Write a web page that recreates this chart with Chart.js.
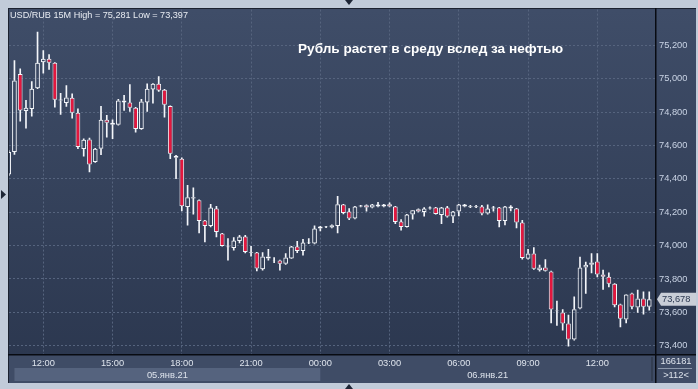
<!DOCTYPE html>
<html>
<head>
<meta charset="utf-8">
<script src="https://cdn.jsdelivr.net/npm/chart.js@4.4.0/dist/chart.umd.min.js"></script>
<style>
html,body{margin:0;padding:0;background:#c1cbd9;overflow:hidden;}
canvas{display:block;}
</style>
</head>
<body>
<canvas id="c" width="698" height="389"></canvas>
<script>
// USD/RUB 15M, слот = номер 15-минутки от 00:00 05.01.21
const firstSlot = 42;

const openP = [
  74.427, 74.561, 75.030, 74.807, 74.819, 74.944, 75.100, 75.120, 75.096, 74.870,
  74.855, 74.887, 74.797, 74.579, 74.637, 74.501, 74.581, 74.755, 74.737, 74.725,
  74.871, 74.859, 74.827, 74.699, 74.859, 74.937, 74.971, 74.935, 74.837, 74.539,
  74.521, 74.232, 74.283, 74.272, 74.150, 74.118, 74.222, 74.072, 73.990, 73.986,
  74.028, 74.054, 73.956, 73.958, 73.859, 73.935, 73.912, 73.911, 73.891, 73.923,
  73.994, 73.968, 74.014, 74.012, 74.102, 74.110, 74.108, 74.118, 74.246, 74.204,
  74.162, 74.234, 74.242, 74.228, 74.246, 74.234, 74.248, 74.234, 74.144, 74.112,
  74.186, 74.218, 74.202, 74.222, 74.228, 74.184, 74.228, 74.174, 74.204, 74.246,
  74.230, 74.230, 74.234, 74.192, 74.222, 74.228, 74.148, 74.234, 74.222, 74.138,
  73.921, 73.953, 73.853, 73.869, 73.845, 73.607, 73.599, 73.533, 73.437, 73.623,
  73.869, 73.885, 73.905, 73.827, 73.813, 73.771, 73.647, 73.557, 73.713, 73.629,
  73.683, 73.633
];
const highP = [
  74.570, 75.110, 75.060, 74.871, 74.984, 75.281, 75.170, 75.146, 75.098, 74.914,
  74.960, 74.911, 74.821, 74.641, 74.645, 74.583, 74.835, 74.781, 74.755, 74.877,
  74.901, 74.966, 74.830, 74.877, 74.971, 74.972, 75.014, 74.937, 74.839, 74.541,
  74.527, 74.362, 74.346, 74.275, 74.152, 74.248, 74.236, 74.074, 74.042, 74.048,
  74.062, 74.062, 73.996, 73.960, 73.958, 73.978, 73.929, 73.913, 73.953, 73.996,
  74.026, 74.038, 74.042, 74.118, 74.116, 74.116, 74.124, 74.296, 74.248, 74.222,
  74.236, 74.242, 74.244, 74.248, 74.260, 74.248, 74.256, 74.236, 74.156, 74.188,
  74.212, 74.220, 74.228, 74.232, 74.230, 74.230, 74.236, 74.206, 74.248, 74.248,
  74.242, 74.242, 74.242, 74.244, 74.236, 74.230, 74.236, 74.240, 74.224, 74.152,
  73.977, 73.988, 73.883, 73.917, 73.847, 73.667, 73.617, 73.583, 73.693, 73.932,
  73.902, 73.953, 73.953, 73.853, 73.837, 73.773, 73.649, 73.707, 73.715, 73.733,
  73.723, 73.723
];
const lowP = [
  74.420, 74.547, 74.747, 74.705, 74.777, 74.941, 75.034, 75.056, 74.831, 74.787,
  74.835, 74.765, 74.581, 74.537, 74.442, 74.499, 74.545, 74.651, 74.641, 74.723,
  74.811, 74.805, 74.681, 74.697, 74.805, 74.855, 74.925, 74.771, 74.521, 74.402,
  74.208, 74.122, 74.188, 74.076, 74.022, 74.112, 74.052, 73.996, 73.913, 73.972,
  74.016, 73.956, 73.937, 73.849, 73.853, 73.913, 73.897, 73.853, 73.887, 73.921,
  73.958, 73.943, 74.012, 74.010, 74.088, 74.108, 74.106, 74.076, 74.190, 74.156,
  74.160, 74.232, 74.206, 74.226, 74.232, 74.232, 74.232, 74.132, 74.092, 74.110,
  74.158, 74.202, 74.176, 74.218, 74.188, 74.132, 74.170, 74.138, 74.178, 74.232,
  74.228, 74.228, 74.184, 74.188, 74.206, 74.112, 74.124, 74.208, 74.106, 73.919,
  73.919, 73.857, 73.847, 73.847, 73.537, 73.521, 73.493, 73.397, 73.433, 73.621,
  73.713, 73.837, 73.813, 73.737, 73.753, 73.633, 73.513, 73.537, 73.621, 73.599,
  73.589, 73.613
];
const closeP = [
  74.561, 74.990, 74.811, 74.827, 74.941, 75.096, 75.120, 75.096, 74.875, 74.876,
  74.889, 74.797, 74.591, 74.635, 74.486, 74.581, 74.755, 74.737, 74.725, 74.871,
  74.859, 74.827, 74.699, 74.865, 74.941, 74.971, 74.931, 74.845, 74.551, 74.527,
  74.236, 74.290, 74.290, 74.148, 74.118, 74.228, 74.082, 73.998, 73.994, 74.030,
  74.054, 73.962, 73.960, 73.863, 73.935, 73.923, 73.914, 73.891, 73.929, 73.994,
  73.968, 74.018, 74.018, 74.102, 74.114, 74.114, 74.122, 74.248, 74.196, 74.162,
  74.234, 74.240, 74.228, 74.246, 74.234, 74.246, 74.234, 74.142, 74.112, 74.186,
  74.212, 74.204, 74.222, 74.228, 74.190, 74.228, 74.174, 74.204, 74.246, 74.234,
  74.236, 74.236, 74.192, 74.222, 74.228, 74.148, 74.234, 74.222, 74.138, 73.926,
  73.953, 73.861, 73.869, 73.849, 73.617, 73.611, 73.533, 73.437, 73.619, 73.869,
  73.885, 73.899, 73.827, 73.813, 73.771, 73.643, 73.561, 73.707, 73.633, 73.683,
  73.633, 73.678
];

const yTicks = [73.4, 73.6, 73.8, 74.0, 74.2, 74.4, 74.6, 74.8, 75.0, 75.2];
const xTickSlots = [48, 60, 72, 84, 96, 108, 120, 132, 144];
const xTickLabels = ['12:00', '15:00', '18:00', '21:00', '00:00', '03:00', '06:00', '09:00', '12:00'];
const dayLabels = ['05.янв.21', '06.янв.21'];
const dayFrom = [43, 96];
const dayTo = [96, 154];
const lastPrice = 73.678;

const headerText = 'USD/RUB 15M High = 75,281 Low = 73,397';
const titleText = 'Рубль растет в среду вслед за нефтью';

const RED = '#e3173e';
const WHITE = '#f4f6fa';
const FONT = '"Liberation Sans", Arial, sans-serif';

function fmt(v) { return v.toFixed(3).replace('.', ','); }

const bodies = openP.map((o, i) => ({ x: firstSlot + i, y: [o, closeP[i]] }));
const upperWicks = openP.map((o, i) => ({ x: firstSlot + i, y: [Math.max(o, closeP[i]), highP[i]] }));
const lowerWicks = openP.map((o, i) => ({ x: firstSlot + i, y: [lowP[i], Math.min(o, closeP[i])] }));
const bodyFill = openP.map((o, i) => closeP[i] >= o ? 'rgba(0,0,0,0)' : RED);

// фон панели и области графика
const framePlugin = {
  id: 'frame',
  beforeDraw(chart) {
    const { ctx, chartArea: a } = chart;
    ctx.save();
    ctx.fillStyle = '#c1cbd9';
    ctx.fillRect(0, 0, chart.width, chart.height);
    ctx.fillStyle = '#3f4c66';
    ctx.fillRect(8, 8, 688, 375);
    const g = ctx.createLinearGradient(0, a.top, 0, a.bottom);
    g.addColorStop(0, '#3f4d68');
    g.addColorStop(1, '#2c3850');
    ctx.fillStyle = g;
    ctx.fillRect(a.left, a.top, 696 - a.left, a.bottom - a.top);
    // полоса даты
    const x = chart.scales.x;
    ctx.fillStyle = '#55637e';
    const b0 = x.getPixelForValue(dayFrom[0]), b1 = x.getPixelForValue(dayTo[0]);
    ctx.fillRect(b0, 368, b1 - b0, 13);
    ctx.restore();
  },
  afterDraw(chart) {
    const { ctx, chartArea: a, scales: { x, y } } = chart;
    ctx.save();
    // рамки
    ctx.fillStyle = '#1b2230';
    ctx.fillRect(8, 8, 688, 1);
    ctx.fillRect(8, 8, 1, 375);
    ctx.fillStyle = '#080b12';
    ctx.fillRect(a.right, 8, 1.5, 375);
    ctx.fillRect(8, a.bottom, 688, 1.5);

    // заголовок
    ctx.fillStyle = '#e8ecf2';
    ctx.font = '9.1px ' + FONT;
    ctx.textBaseline = 'alphabetic';
    ctx.textAlign = 'left';
    ctx.fillText(headerText, 10, 18);

    ctx.fillStyle = '#ffffff';
    ctx.font = 'bold 13.6px ' + FONT;
    ctx.fillText(titleText, 298, 53);

    // даты
    ctx.fillStyle = '#dde3ec';
    ctx.font = '9.3px ' + FONT;
    ctx.textAlign = 'center';
    ctx.textBaseline = 'middle';
    dayLabels.forEach((d, i) => {
      const c = (x.getPixelForValue(dayFrom[i]) + Math.min(x.getPixelForValue(dayTo[i]), a.right)) / 2;
      ctx.fillText(d, c, 375);
    });

    // угол
    ctx.fillStyle = '#29313f';
    ctx.fillRect(651.5, 357, 1, 24);
    ctx.fillStyle = '#8b97ab';
    ctx.fillRect(658, 368, 34, 1);
    ctx.fillStyle = '#dde3ec';
    ctx.fillText('166181', 676, 361.5);
    ctx.fillText('>112<', 676, 375);

    // метка последней цены
    const py = y.getPixelForValue(lastPrice);
    ctx.fillStyle = '#c9ced7';
    ctx.beginPath();
    ctx.moveTo(657, py);
    ctx.lineTo(661, py - 6.5);
    ctx.lineTo(696, py - 6.5);
    ctx.lineTo(696, py + 6.5);
    ctx.lineTo(661, py + 6.5);
    ctx.closePath();
    ctx.fill();
    ctx.fillStyle = '#2b3850';
    ctx.textAlign = 'left';
    ctx.fillText(fmt(lastPrice), 662, py);

    // треугольники
    ctx.fillStyle = '#1d2535';
    ctx.beginPath(); ctx.moveTo(345, 0); ctx.lineTo(353, 0); ctx.lineTo(349, 5); ctx.fill();
    ctx.beginPath(); ctx.moveTo(345, 389); ctx.lineTo(353, 389); ctx.lineTo(349, 384); ctx.fill();
    ctx.beginPath(); ctx.moveTo(1, 190); ctx.lineTo(1, 199); ctx.lineTo(6, 194.5); ctx.fill();
    ctx.restore();
  }
};

new Chart(document.getElementById('c'), {
  type: 'bar',
  data: {
    datasets: [
      { data: bodies, backgroundColor: bodyFill, borderColor: WHITE, borderWidth: 1, borderSkipped: false,
        barPercentage: 0.82, categoryPercentage: 1, grouped: false, clip: 0 },
      { data: upperWicks, backgroundColor: WHITE, borderWidth: 0, barThickness: 1, grouped: false, clip: 0 },
      { data: lowerWicks, backgroundColor: WHITE, borderWidth: 0, barThickness: 1, grouped: false, clip: 0 }
    ]
  },
  options: {
    responsive: false,
    animation: false,
    devicePixelRatio: 1,
    layout: { padding: { left: 9, top: 9, right: 2, bottom: 6 } },
    plugins: { legend: { display: false }, tooltip: { enabled: false } },
    scales: {
      x: {
        type: 'linear', min: 42.056, max: 153.996, offset: false,
        afterBuildTicks: s => { s.ticks = xTickSlots.map(v => ({ value: v })); },
        afterFit: s => { s.height = 29; },
        ticks: {
          callback: v => xTickLabels[xTickSlots.indexOf(v)] || '',
          color: '#dde3ec', font: { family: FONT, size: 9.3 }, padding: 4,
          maxRotation: 0, autoSkip: false
        },
        grid: { color: '#56647e', drawTicks: false, offset: false },
        border: { display: false, dash: [2, 2] }
      },
      y: {
        position: 'right', min: 73.35, max: 75.4156,
        afterBuildTicks: s => { s.ticks = yTicks.map(v => ({ value: v })); },
        afterFit: s => { s.width = 41; },
        ticks: {
          callback: v => fmt(v),
          color: '#c9d3e4', font: { family: FONT, size: 9.3 }, padding: 4
        },
        grid: { color: '#56647e', drawTicks: false },
        border: { display: false, dash: [2, 2] }
      }
    }
  },
  plugins: [framePlugin]
});
</script>
</body>
</html>
